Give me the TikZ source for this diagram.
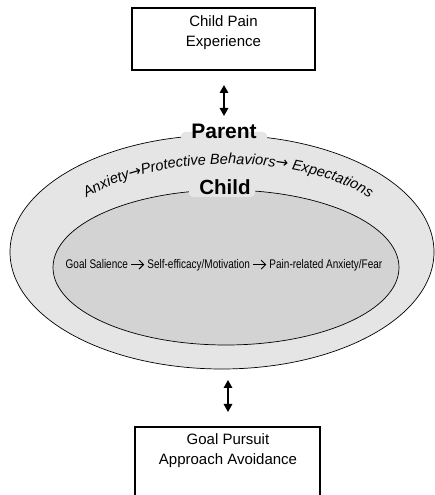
\documentclass[tikz,border=0pt]{standalone}
\usepackage{fontspec}
\setmainfont{Liberation Sans}
\newfontfamily\narrowfont[FakeStretch=0.8]{Liberation Sans}
\newfontfamily\arrowfont{DejaVu Sans}
\usetikzlibrary{shapes.geometric,arrows.meta,decorations.text}
\definecolor{outerfill}{RGB}{229,229,229}
\definecolor{innerfill}{RGB}{211,211,211}
\newcommand\chevarr{\tikz[baseline=-0.55ex]\draw[line width=0.9pt,-{Straight Barb[length=4.5pt,width=9pt,line width=0.9pt]}] (0,0)--(13pt,0);}
\tikzset{
  boxtext/.style={align=center,font=\fontsize{15}{20}\selectfont,inner sep=0pt},
  bothway/.style={line width=1.6pt,{Triangle[length=8pt,width=8.5pt]}-{Triangle[length=8pt,width=8.5pt]}},
  ring/.style={ellipse,draw,line width=0.7pt,inner sep=0pt},
  ringlabel/.style={font=\bfseries\fontsize{21}{24}\selectfont,inner sep=0pt},
  gap/.style={fill=outerfill,rounded corners=4pt}
}
\begin{document}
\begin{tikzpicture}[x=1pt,y=1pt]
\useasboundingbox (0,0) rectangle (434,495);
% top box
\draw[line width=1.1pt] (132,425) rectangle (315,487);
\node[boxtext] (pain) at (223.5,462) {Child Pain\\Experience};
% top arrow
\coordinate (ta1) at (224,410);
\coordinate (ta2) at (224,379);
\draw[bothway] (ta1) -- (ta2);
% ellipses
\node[ring,fill=outerfill,minimum width=424pt,minimum height=234pt] (outer) at (222,243) {};
\node[ring,fill=innerfill,minimum width=346pt,minimum height=155pt] (inner) at (226,227.5) {};
% gaps in outlines behind labels
\fill[gap] (181,352) rectangle (267,363);
\fill[gap] (189,298) rectangle (255,309);
% labels
\node[ringlabel] (parent) at (224,364) {Parent};
\node[ringlabel,font=\bfseries\fontsize{20.5}{24}\selectfont] (child) at (225,308) {Child};
% curved text
\path[decorate,decoration={text along path,text align=center,
  text={|\itshape\fontsize{14.6}{17}\selectfont|Anxiety|\arrowfont\fontsize{15}{17}\selectfont|→|\itshape\fontsize{14.6}{17}\selectfont|Protective Behaviors|\arrowfont\fontsize{15}{17}\selectfont|→|\itshape\fontsize{14.6}{17}\selectfont| Expectations}}]
  (62.9,277) arc[start angle=157.3,end angle=22.7,x radius=179,y radius=88];
% inner text
\node[font=\narrowfont\fontsize{12.5}{15}\selectfont,inner sep=0pt] (chain) at (224,230)
  {Goal Salience \chevarr{} Self-efficacy/Motivation \chevarr{} Pain-related Anxiety/Fear};
% bottom arrow
\coordinate (ba1) at (228,115);
\coordinate (ba2) at (228,83);
\draw[bothway] (ba1) -- (ba2);
% bottom box
\draw[line width=1.1pt] (135,-5) rectangle (320,68);
\node[boxtext] (goal) at (228,44) {Goal Pursuit\\Approach Avoidance};
\end{tikzpicture}
\end{document}
